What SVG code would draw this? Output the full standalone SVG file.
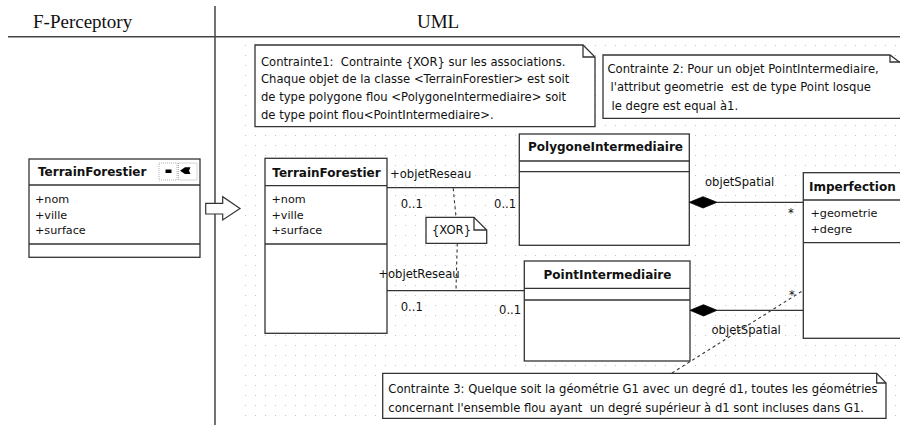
<svg xmlns="http://www.w3.org/2000/svg" width="900" height="425" viewBox="0 0 900 425">
<defs>
<pattern id="grid" x="245" y="45" width="10" height="10" patternUnits="userSpaceOnUse">
<rect x="0" y="0" width="1" height="1" fill="#c4c4c4"/>
</pattern>
<style>
.box{fill:#fff;stroke:#333;stroke-width:1.3}
.div{stroke:#333;stroke-width:1.3;fill:none}
.line{stroke:#333;stroke-width:1.2;fill:none}
.dash{stroke:#333;stroke-width:1.1;fill:none;stroke-dasharray:3,3}
.sep{stroke:#444;stroke-width:1.5;fill:none}
.hdr{font-family:"Liberation Serif","Times New Roman",serif;font-size:19px;fill:#111}
.title{font-family:"DejaVu Sans",Verdana,sans-serif;font-size:12px;font-weight:bold;fill:#111}
.attr{font-family:"DejaVu Sans",Verdana,sans-serif;font-size:11.2px;fill:#111}
.lbl{font-family:"DejaVu Sans",Verdana,sans-serif;font-size:11.6px;fill:#111}
.note{font-family:"DejaVu Sans",Verdana,sans-serif;font-size:11.6px;fill:#111;white-space:pre}
.c{text-anchor:middle}
</style>
</defs>
<rect x="0" y="0" width="900" height="425" fill="#fff"/>
<rect x="244" y="44" width="656" height="381" fill="url(#grid)"/>

<g id="header">
<line class="sep" x1="8" y1="36.7" x2="900" y2="36.7"/>
<line class="sep" x1="215" y1="6" x2="215" y2="425"/>
<text class="hdr" x="33" y="28">F-Perceptory</text>
<text class="hdr" x="417" y="28">UML</text>
</g>

<g id="left-TerrainForestier">
<rect class="box" x="29" y="159" width="171" height="98.3"/>
<line class="div" x1="29" y1="185" x2="200" y2="185"/>
<line class="div" x1="29" y1="244" x2="200" y2="244"/>
<text class="title" x="38" y="176">TerrainForestier</text>
<rect x="159" y="163" width="18" height="17" fill="none" stroke="#999" stroke-width="0.8" stroke-dasharray="1,1"/>
<rect x="165.5" y="169.5" width="6" height="3.5" fill="#000"/>
<rect x="178.5" y="163" width="18.5" height="17" fill="none" stroke="#999" stroke-width="0.8" stroke-dasharray="1,1"/>
<polygon points="180,170.7 185,167.3 190.5,167.3 189,170.7 190.5,174 185,174" fill="#000"/>
<text class="attr" x="35" y="203">+nom</text>
<text class="attr" x="35" y="218.5">+ville</text>
<text class="attr" x="35" y="234">+surface</text>
</g>

<g id="transform-arrow">
<polygon points="205.7,203.3 222.7,203.3 222.7,196.7 240,208.5 222.7,220 222.7,214 205.7,214" fill="#fff" stroke="#333" stroke-width="1.2"/>
</g>

<g id="note1">
<path class="box" d="M255,45 H583 L595,57 V126.7 H255 Z"/>
<path class="div" d="M583,45 V57 H595"/>
<text class="note" x="261" y="65.5">Contrainte1:  Contrainte {XOR} sur les associations.</text>
<text class="note" x="261" y="83">Chaque objet de la classe &lt;TerrainForestier&gt; est soit</text>
<text class="note" x="261" y="100.7">de type polygone flou &lt;PolygoneIntermediaire&gt; soit</text>
<text class="note" x="261" y="118.5">de type point flou&lt;PointIntermediaire&gt;.</text>
</g>

<g id="note2">
<path class="box" d="M603,55 H890 L902,64 V118.3 H603 Z"/>
<path class="div" d="M890,55 V62 H902"/>
<text class="note" x="607.5" y="73">Contrainte 2: Pour un objet PointIntermediaire,</text>
<text class="note" x="610.5" y="91.3">l'attribut geometrie  est de type Point losque</text>
<text class="note" x="611.5" y="110">le degre est equal à1.</text>
</g>

<g id="right-TerrainForestier">
<rect class="box" x="265" y="158.3" width="122" height="175"/>
<line class="div" x1="265" y1="185.7" x2="387" y2="185.7"/>
<line class="div" x1="265" y1="244" x2="387" y2="244"/>
<text class="title c" x="326.5" y="176.5">TerrainForestier</text>
<text class="attr" x="271.5" y="203">+nom</text>
<text class="attr" x="271.5" y="218.5">+ville</text>
<text class="attr" x="271.5" y="234">+surface</text>
</g>

<g id="PolygoneIntermediaire">
<rect class="box" x="519.3" y="134" width="170" height="111.3"/>
<line class="div" x1="519.3" y1="161" x2="689.3" y2="161"/>
<line class="div" x1="519.3" y1="171.7" x2="689.3" y2="171.7"/>
<text class="title c" x="605.5" y="151">PolygoneIntermediaire</text>
</g>

<g id="PointIntermediaire">
<rect class="box" x="524.3" y="261" width="165.7" height="100"/>
<line class="div" x1="524.3" y1="288.3" x2="690" y2="288.3"/>
<line class="div" x1="524.3" y1="300" x2="690" y2="300"/>
<text class="title c" x="607.5" y="278.7">PointIntermediaire</text>
</g>

<g id="Imperfection">
<rect class="box" x="803.3" y="172.7" width="110" height="165.6"/>
<line class="div" x1="803.3" y1="200" x2="913" y2="200"/>
<line class="div" x1="803.3" y1="242.7" x2="913" y2="242.7"/>
<text class="title" x="809" y="190.5">Imperfection</text>
<text class="attr" x="810.5" y="216.5">+geometrie</text>
<text class="attr" x="810.5" y="232.5">+degre</text>
</g>

<g id="note-xor">
<path class="box" d="M426,217.3 H474 L486.7,230 V243.3 H426 Z"/>
<path class="div" d="M474,217.3 V230 H486.7"/>
<text class="lbl c" x="451.5" y="234">{XOR}</text>
</g>

<g id="note3">
<path class="box" d="M382.7,373.3 H876.7 L886,383 V418.3 H382.7 Z"/>
<path class="div" d="M876.7,373.3 V383 H886"/>
<text class="note" x="388.3" y="392.5">Contrainte 3: Quelque soit la géométrie G1 avec un degré d1, toutes les géométries</text>
<text class="note" x="388.3" y="411.5">concernant l'ensemble flou ayant  un degré supérieur à d1 sont incluses dans G1.</text>
</g>

<g id="connectors">
<line class="line" x1="387" y1="187.7" x2="519.3" y2="187.7"/>
<text class="lbl" x="390" y="177.5">+objetReseau</text>
<text class="lbl" x="400.7" y="207.5">0..1</text>
<text class="lbl" x="494" y="207.5">0..1</text>

<line class="line" x1="387" y1="290.7" x2="524.3" y2="290.7"/>
<text class="lbl" x="378.3" y="278">+objetReseau</text>
<text class="lbl" x="400.7" y="311">0..1</text>
<text class="lbl" x="499" y="314">0..1</text>

<path class="dash" d="M453.3,188.3 L454,197 L456,216.5"/>
<path class="dash" d="M457.3,243.5 L456.7,263 L456,290.7"/>

<line class="line" x1="717" y1="202.3" x2="803.3" y2="202.3"/>
<polygon points="689.3,202.3 703,196.7 717,202.3 703,208" fill="#000" stroke="#000" stroke-width="0.8"/>
<text class="lbl" x="705" y="186">objetSpatial</text>
<text class="lbl" x="788" y="217">*</text>

<line class="line" x1="717" y1="310.3" x2="803.3" y2="310.3"/>
<polygon points="690,310.3 703.5,304.7 717,310.3 703.5,316" fill="#000" stroke="#000" stroke-width="0.8"/>
<text class="lbl" x="711.5" y="334">objetSpatial</text>
<text class="lbl" x="789" y="299">*</text>

<line class="dash" x1="672" y1="373" x2="803" y2="290.5"/>
</g>
</svg>
